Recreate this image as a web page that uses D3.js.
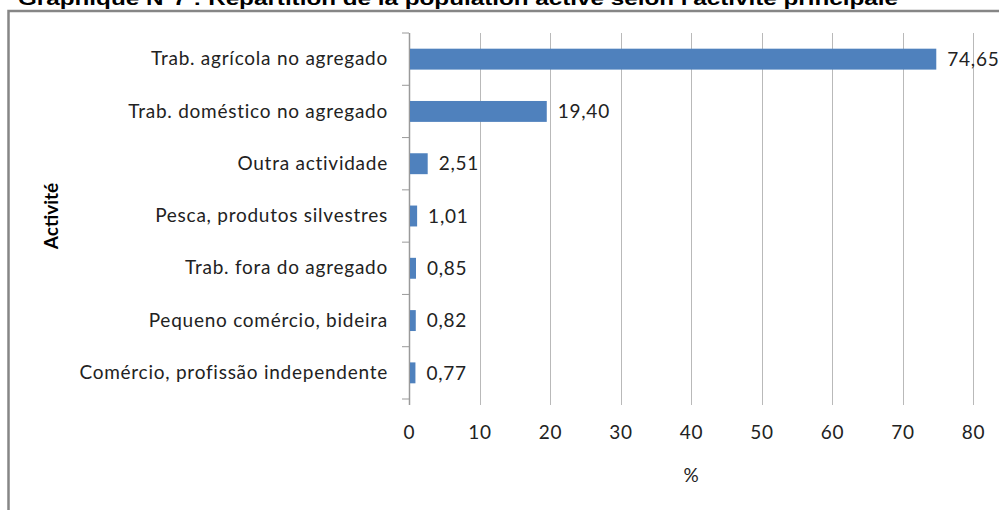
<!DOCTYPE html>
<html>
<head>
<meta charset="utf-8">
<script src="https://cdn.jsdelivr.net/npm/d3@7"></script>
<style>
  body { margin: 0; background: #fff; }
  svg { display: block; }
</style>
</head>
<body>
<div id="chart"></div>
<script>
// data
var activities = [
  "Trab. agrícola no agregado",
  "Trab. doméstico no agregado",
  "Outra actividade",
  "Pesca, produtos silvestres",
  "Trab. fora do agregado",
  "Pequeno comércio, bideira",
  "Comércio, profissão independente"
];
var percents = [74.65, 19.40, 2.51, 1.01, 0.85, 0.82, 0.77];
var xTicks = [0, 10, 20, 30, 40, 50, 60, 70, 80];

var svgWidth = 999;
var svgHeight = 510;

var plot = { left: 409, right: 973, top: 33, bottom: 399 };

var labelFont = "Lato, sans-serif";
var labelSize = "19px";
var labelSpacing = "0.75px";

var svg = d3.select("#chart")
  .append("svg")
  .attr("width", svgWidth)
  .attr("height", svgHeight);

var frFormat = d3.formatLocale({
  decimal: ",", thousands: " ", grouping: [3], currency: ["", " €"]
}).format(".2f");

// title, clipped at the top like the original
svg.append("text")
  .attr("x", 18)
  .attr("y", 5)
  .attr("font-family", "Liberation Sans, Arial, sans-serif")
  .attr("font-weight", "bold")
  .attr("font-size", "19px")
  .attr("textLength", 880)
  .attr("lengthAdjust", "spacingAndGlyphs")
  .attr("fill", "#000")
  .text("Graphique N°7 : Répartition de la population active selon l'activité principale");

// chart frame
svg.append("rect")
  .attr("x", 8.5)
  .attr("y", 11)
  .attr("width", 1100)
  .attr("height", 600)
  .attr("fill", "none")
  .attr("stroke", "#868686")
  .attr("stroke-width", 2.5);

// scales
var xScale = d3.scaleLinear()
  .domain([0, 80])
  .range([plot.left, plot.right]);

var yScale = d3.scaleBand()
  .domain(activities)
  .range([plot.top, plot.bottom])
  .paddingInner(0.6)
  .paddingOuter(0.3);

// vertical gridlines
svg.append("g")
  .selectAll("line")
  .data(xTicks.slice(1))
  .enter()
  .append("line")
  .attr("x1", d => Math.round(xScale(d)) + 0.5)
  .attr("x2", d => Math.round(xScale(d)) + 0.5)
  .attr("y1", plot.top)
  .attr("y2", plot.bottom + 6)
  .attr("stroke", "#b9b9b9")
  .attr("stroke-width", 1);

// x tick labels
var xAxis = d3.axisBottom(xScale)
  .tickValues(xTicks)
  .tickSize(0)
  .tickPadding(0)
  .tickFormat(d3.format("d"));

var xAxisG = svg.append("g")
  .attr("transform", `translate(0, ${plot.bottom + 26})`)
  .call(xAxis);
xAxisG.select(".domain").remove();
xAxisG.selectAll("text")
  .attr("font-family", labelFont)
  .attr("font-size", labelSize)
  .attr("letter-spacing", labelSpacing)
  .attr("fill", "#222");

// y axis line + ticks at band boundaries
var step = yScale.step();
var boundaries = d3.range(activities.length + 1).map(i => plot.top + i * step);

svg.append("line")
  .attr("x1", plot.left + 0.5)
  .attr("x2", plot.left + 0.5)
  .attr("y1", plot.top)
  .attr("y2", plot.bottom + 6)
  .attr("stroke", "#9a9a9a")
  .attr("stroke-width", 1.5);

svg.append("g")
  .selectAll("line")
  .data(boundaries)
  .enter()
  .append("line")
  .attr("x1", plot.left - 7)
  .attr("x2", plot.left)
  .attr("y1", d => d)
  .attr("y2", d => d)
  .attr("stroke", "#9a9a9a")
  .attr("stroke-width", 1);

// category labels
var yAxis = d3.axisLeft(yScale).tickSize(0).tickPadding(21);
var yAxisG = svg.append("g")
  .attr("transform", `translate(${plot.left}, 0)`)
  .call(yAxis);
yAxisG.select(".domain").remove();
yAxisG.selectAll("text")
  .attr("font-family", labelFont)
  .attr("font-size", labelSize)
  .attr("letter-spacing", labelSpacing)
  .attr("fill", "#222");

// bars
var rows = activities.map((a, i) => ({ name: a, value: percents[i] }));

svg.append("g")
  .selectAll("rect")
  .data(rows)
  .enter()
  .append("rect")
  .attr("x", plot.left + 1)
  .attr("y", d => yScale(d.name))
  .attr("width", d => xScale(d.value) - plot.left)
  .attr("height", yScale.bandwidth())
  .attr("fill", "#4f81bd");

// value labels
svg.append("g")
  .selectAll("text")
  .data(rows)
  .enter()
  .append("text")
  .attr("x", d => xScale(d.value) + 12)
  .attr("y", d => yScale(d.name) + yScale.bandwidth() / 2)
  .attr("dy", "0.35em")
  .attr("font-family", labelFont)
  .attr("font-size", labelSize)
  .attr("letter-spacing", labelSpacing)
  .attr("fill", "#222")
  .text(d => frFormat(d.value));

// axis titles
svg.append("text")
  .attr("x", (plot.left + plot.right) / 2)
  .attr("y", 475)
  .attr("dy", "0.35em")
  .attr("text-anchor", "middle")
  .attr("font-family", labelFont)
  .attr("font-size", labelSize)
  .attr("fill", "#222")
  .text("%");

svg.append("text")
  .attr("transform", "translate(51, 216) rotate(-90)")
  .attr("dy", "0.35em")
  .attr("text-anchor", "middle")
  .attr("font-family", labelFont)
  .attr("font-weight", "bold")
  .attr("font-size", labelSize)
  .attr("fill", "#000")
  .text("Activité");
</script>
</body>
</html>
